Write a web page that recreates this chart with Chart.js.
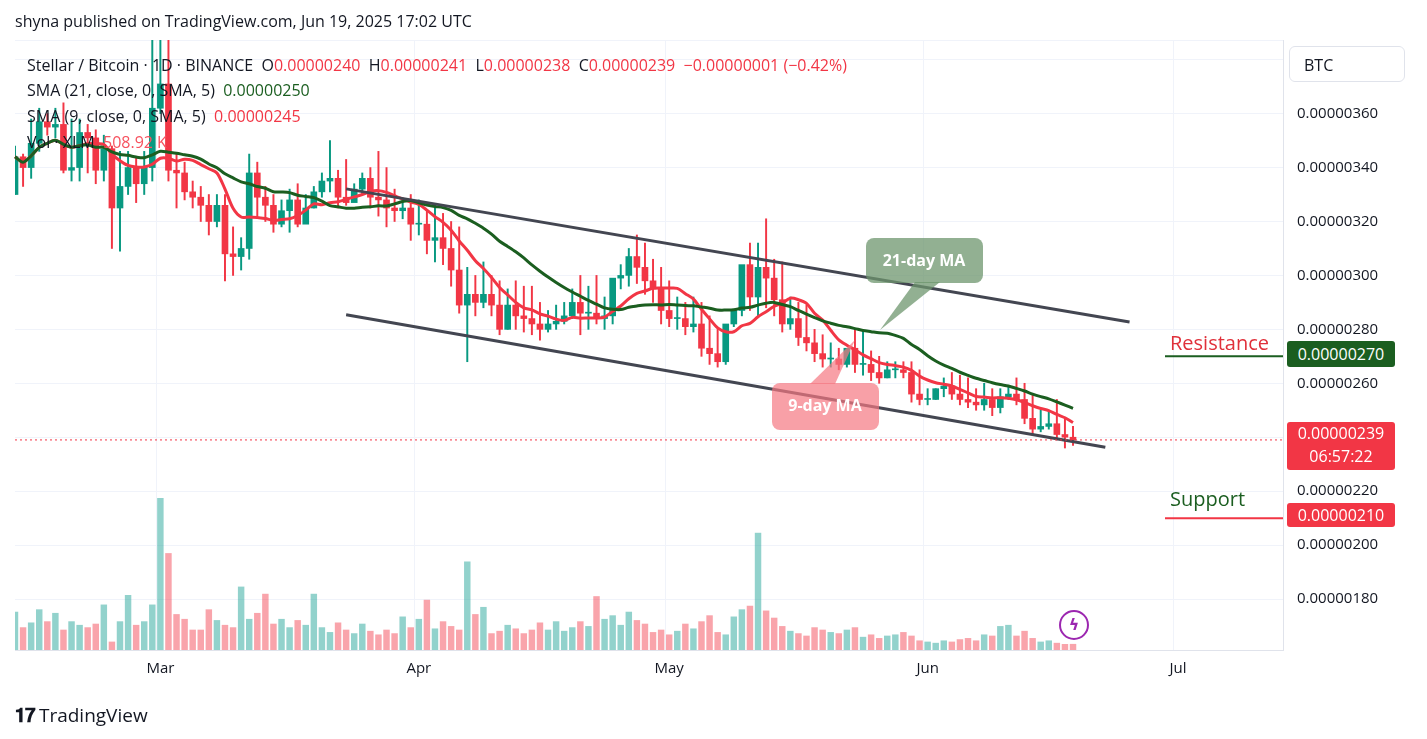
<!DOCTYPE html>
<html><head><meta charset="utf-8">
<script src="https://cdn.jsdelivr.net/npm/chart.js@4"></script>
<style>
body{margin:0;background:#fff;font-family:"Open Sans",Roboto,sans-serif;width:1427px;height:739px;overflow:hidden;position:relative;color:#131722}
#wrap{position:absolute;left:0;top:0;width:1427px;height:739px}
.t{position:absolute;white-space:nowrap}
</style></head><body>
<div id="wrap"><canvas id="c" width="1427" height="739"></canvas></div>
<div class="t" style="left:15px;top:10px;font-size:16px">shyna published on TradingView.com, Jun 19, 2025 17:02 UTC</div>
<div class="t" style="left:27px;top:54px;font-size:16px">Stellar / Bitcoin · 1D · BINANCE &nbsp;O<span style="color:#f23645">0.00000240</span> &nbsp;H<span style="color:#f23645">0.00000241</span> &nbsp;L<span style="color:#f23645">0.00000238</span> &nbsp;C<span style="color:#f23645">0.00000239 &nbsp;−0.00000001 (−0.42%)</span></div>
<div class="t" style="left:27px;top:79px;font-size:16px">SMA (21, close, 0, SMA, 5) &nbsp;<span style="color:#1b5e20">0.00000250</span></div>
<div class="t" style="left:27px;top:105px;font-size:16px">SMA (9, close, 0, SMA, 5) &nbsp;<span style="color:#f23645">0.00000245</span></div>
<div class="t" style="left:27px;top:131px;font-size:16px">Vol · XLM &nbsp;<span style="color:#f7525f">508.92 K</span></div>
<div class="t" style="left:1289px;top:46px;width:116px;height:36px;border:1px solid #e0e3eb;border-radius:6px;font-size:16px;line-height:36px;padding-left:14px;box-sizing:border-box">BTC</div>
<div class="t" style="left:1287px;top:341px;width:108px;height:26px;background:#1b5e20;color:#fff;font-size:16px;line-height:26px;text-align:center;border-radius:3px">0.00000270</div>
<div class="t" style="left:1287px;top:422px;width:108px;height:48px;background:#f23645;color:#fff;font-size:16px;line-height:23px;text-align:center;border-radius:3px">0.00000239<br>06:57:22</div>
<div class="t" style="left:1287px;top:503px;width:108px;height:24px;background:#f23645;color:#fff;font-size:16px;line-height:24px;text-align:center;border-radius:3px">0.00000210</div>
<div class="t" style="left:1170px;top:329px;font-size:20px;color:#e0303a">Resistance</div>
<div class="t" style="left:1170px;top:485px;font-size:20px;color:#1b5e20">Support</div>
<div class="t" style="left:15px;top:702px;font-size:19px;font-weight:bold;letter-spacing:-1px">𝟏𝟕 <span style="font-weight:normal;letter-spacing:0">TradingView</span></div>
<script>
const monthTicks = { 18: 'Mar', 50: 'Apr', 81: 'May', 113: 'Jun', 144: 'Jul' };
const nSlots = 158;
// prices in 1e-8 BTC
const closes = [344,340,349,357,355,356,339,340,353,351,339,347,325,333,340,334,340,362,371,339,338,331,329,326,320,326,308,307,310,338,329,326,319,
324,328,319,325,331,335,336,329,327,332,336,329,328,325,324,325,319,319,313,314,310,302,289,293,290,293,289,280,289,
285,284,282,280,282,283,285,290,286,286,284,285,299,300,307,303,298,295,287,284,284,281,282,273,271,268,282,287,304,
292,303,299,291,282,284,277,275,271,269,269,267,273,267,267,264,262,265,265,264,256,254,254,258,259,256,254,253,252,254,
251,255,256,254,247,243,244,245,241,240,239];
const highs = [348,345,358,362,360,362,364,358,358,356,354,352,348,346,346,344,346,390,392,388,345,342,335,333,330,330,330,318,314,345,342,333,330,328,
332,334,330,333,338,350,339,343,334,338,340,346,340,332,328,330,328,324,326,323,320,318,303,300,305,300,298,295,298,
296,296,290,287,289,290,295,300,296,300,292,291,304,310,315,312,306,303,298,292,290,292,290,285,280,275,285,295,312,
312,321,306,305,292,290,289,280,278,275,273,272,280,280,272,270,268,268,268,268,265,258,258,262,264,263,262,258,260,258,
258,259,262,260,256,250,250,254,247,244,242];
const lows = [330,333,336,346,352,351,338,335,335,338,334,335,310,309,330,327,330,335,360,335,325,328,325,320,315,318,298,300,302,306,322,320,316,
318,316,318,320,325,329,331,325,326,328,330,325,322,318,320,321,313,315,308,305,304,296,286,268,285,288,285,278,280,
280,279,278,276,279,280,282,284,278,280,282,280,282,295,296,297,293,290,282,281,280,278,279,270,267,266,267,281,285,
287,285,288,285,279,280,274,272,268,266,266,265,266,264,263,261,260,262,262,262,253,252,252,254,255,254,252,251,250,250,
248,249,254,252,245,241,242,243,239,236,237];
const volumesK = [3200,1900,2300,3400,2400,3100,1700,2400,2100,1900,
2200,3800,700,2400,4600,2100,2400,3800,12700,8100,
3000,2600,1700,1700,3400,2500,2100,1900,5300,2600,
3100,4700,2200,2600,1900,2500,2100,4700,1900,1500,
2300,1700,1400,2200,1600,1300,1700,1400,2800,1900,
2600,4200,1800,2400,2000,1700,7400,3000,3600,1400,
1600,2100,1800,1400,1700,2300,1700,2400,1600,1900,
2400,2000,4500,2600,2900,2100,3200,2500,2200,1500,
1700,1300,1600,2200,1800,2400,2900,1500,1300,2800,
3400,3700,9800,3300,2700,2000,1600,1400,1200,1900,
1700,1500,1400,1700,1900,1100,1300,1000,1200,1300,
1500,1200,800,700,600,800,700,900,1000,800,
1300,1200,2000,2100,1200,1600,1000,700,800,600,
500,509];
// trend channel end points: [slot index, price]
const channelUpper = [[41, 332.1], [138, 282.7]];
const channelLower = [[41, 285.4], [135, 236.3]];

const UP = '#089981', DOWN = '#f23645';
const opens = closes.map((c, i) => i ? closes[i - 1] : 330);
const isUp = closes.map((c, i) => c >= opens[i]);
const colors = isUp.map(u => u ? UP : DOWN);
const volColors = isUp.map(u => u ? 'rgba(38,166,154,0.5)' : 'rgba(242,54,69,0.45)');

function sma(n) {
  return closes.map((_, i) => {
    const s = closes.slice(Math.max(0, i - n + 1), i + 1);
    return s.reduce((a, b) => a + b, 0) / s.length;
  });
}
function sparse(points) {
  const arr = new Array(nSlots).fill(null);
  points.forEach(([i, v]) => { arr[i] = v; });
  return arr;
}

const labels = Array.from({ length: nSlots }, (_, i) => monthTicks[i] || '');

// callouts, last-price dotted line, lightning badge
const overlay = {
  id: 'overlay',
  afterDatasetsDraw(chart) {
    const { ctx, chartArea: a, scales: { y } } = chart;
    ctx.save();
    ctx.strokeStyle = DOWN; ctx.setLineDash([2, 3]); ctx.lineWidth = 1;
    const ly = y.getPixelForValue(239);
    ctx.beginPath(); ctx.moveTo(a.left, ly); ctx.lineTo(a.right, ly); ctx.stroke();
    ctx.setLineDash([]);
    ctx.lineWidth = 2;
    ctx.strokeStyle = '#1b5e20';
    ctx.beginPath(); ctx.moveTo(1165, y.getPixelForValue(270)); ctx.lineTo(a.right, y.getPixelForValue(270)); ctx.stroke();
    ctx.strokeStyle = DOWN;
    ctx.beginPath(); ctx.moveTo(1165, y.getPixelForValue(210)); ctx.lineTo(a.right, y.getPixelForValue(210)); ctx.stroke();
    // 21-day callout
    ctx.fillStyle = 'rgba(110,150,110,0.75)';
    ctx.beginPath(); ctx.moveTo(915, 282); ctx.lineTo(880, 330); ctx.lineTo(940, 282); ctx.fill();
    ctx.beginPath(); ctx.roundRect(866, 238, 117, 45, 8); ctx.fill();
    // 9-day callout
    ctx.fillStyle = 'rgba(245,120,130,0.7)';
    ctx.beginPath(); ctx.moveTo(810, 384); ctx.lineTo(855, 340); ctx.lineTo(835, 384); ctx.fill();
    ctx.beginPath(); ctx.roundRect(772, 383, 107, 47, 8); ctx.fill();
    ctx.fillStyle = '#fff'; ctx.font = 'bold 16px "Open Sans"'; ctx.textAlign = 'center'; ctx.textBaseline = 'middle';
    ctx.fillText('21-day MA', 924, 261);
    ctx.fillText('9-day MA', 825, 406);
    // badge
    ctx.strokeStyle = '#9c27b0'; ctx.lineWidth = 2;
    ctx.beginPath(); ctx.arc(1074, 625, 14, 0, Math.PI * 2); ctx.stroke();
    ctx.fillStyle = '#9c27b0'; ctx.font = 'bold 16px "DejaVu Sans"';
    ctx.fillText('ϟ', 1074, 626);
    ctx.restore();
  }
};

new Chart(document.getElementById('c'), {
  data: {
    labels,
    datasets: [
      { type: 'line', data: sparse(channelUpper), spanGaps: true, borderColor: '#434651', borderWidth: 3, pointRadius: 0, yAxisID: 'y', order: 0 },
      { type: 'line', data: sparse(channelLower), spanGaps: true, borderColor: '#434651', borderWidth: 3, pointRadius: 0, yAxisID: 'y', order: 0 },
      { type: 'line', data: sma(21), borderColor: '#1b5e20', borderWidth: 3, pointRadius: 0, tension: 0.3, yAxisID: 'y', order: 1 },
      { type: 'line', data: sma(9), borderColor: '#f23645', borderWidth: 3, pointRadius: 0, tension: 0.3, yAxisID: 'y', order: 1 },
      { type: 'bar', data: closes.map((c, i) => [opens[i], c]), backgroundColor: colors, barThickness: 6, grouped: false, minBarLength: 1, yAxisID: 'y', order: 2 },
      { type: 'bar', data: lows.map((l, i) => [l, highs[i]]), backgroundColor: colors, barThickness: 1.3, grouped: false, yAxisID: 'y', order: 3 },
      { type: 'bar', data: volumesK, backgroundColor: volColors, barPercentage: 0.8, categoryPercentage: 1, grouped: false, yAxisID: 'v', order: 4 }
    ]
  },
  options: {
    responsive: false, animation: false,
    layout: { padding: { left: 15, top: 40, right: 0, bottom: 56 } },
    plugins: { legend: { display: false }, tooltip: { enabled: false } },
    scales: {
      x: {
        type: 'category', offset: false,
        grid: { color: ctx => (ctx.tick && ctx.tick.label) ? '#f0f3fa' : 'transparent', drawTicks: false },
        border: { color: '#e0e3eb' },
        ticks: { autoSkip: false, maxRotation: 0, color: '#131722', font: { size: 15, family: 'Open Sans' }, padding: 10 },
        afterFit: s => { s.height = 33; }
      },
      y: {
        position: 'right', min: 161.1, max: 387.3,
        grid: { color: '#f0f3fa', drawTicks: false }, border: { color: '#e0e3eb' },
        ticks: { stepSize: 20, color: '#131722', font: { size: 15, family: 'Open Sans' }, padding: 14,
          callback: v => (v >= 180 && v <= 360) ? (v / 1e8).toFixed(8) : '' },
        afterFit: s => { s.width = 144; }
      },
      v: { display: false, min: 0, max: 51000 }
    }
  },
  plugins: [overlay]
});
</script>
</body></html>
